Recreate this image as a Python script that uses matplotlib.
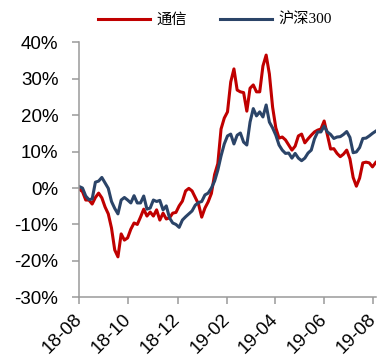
import numpy as np
import pandas as pd
import matplotlib
matplotlib.use('Agg')
import matplotlib.pyplot as plt
import matplotlib.dates as mdates
from matplotlib.ticker import FuncFormatter

# sample dates, one every 4 days
dates = pd.date_range('2018-08-01', periods=93, freq='4D')

# cumulative return, %
telecom = [
    -0.3, -1.0, -3.3, -3.3, -4.4, -2.6, -1.4, -2.7, -5.2, -7.1,
    -11.0, -17.0, -18.9, -12.6, -14.3, -13.7, -11.3, -9.6, -10.0, -8.0,
    -5.8, -7.7, -6.6, -7.7, -6.0, -8.8, -6.9, -8.5, -8.2, -6.9,
    -6.7, -4.9, -3.6, -0.8, -0.1, -0.8, -2.6, -4.4, -8.0, -5.5,
    -3.8, -1.5, 3.7, 6.7, 16.2, 19.2, 20.9, 29.1, 32.7, 26.9,
    26.4, 26.2, 21.1, 27.4, 28.3, 26.4, 26.4, 33.5, 36.5, 31.3,
    22.2, 16.5, 13.7, 14.0, 13.2, 11.8, 10.4, 11.5, 14.3, 14.8,
    12.4, 13.5, 14.5, 15.4, 15.9, 16.2, 18.4, 14.6, 10.7, 10.8,
    9.5, 8.6, 9.3, 10.4, 8.0, 2.9, 0.5, 2.7, 6.9, 7.1,
    6.9, 5.8, 7.0,
]
hs300 = [
    0.4, 0.0, -2.2, -3.2, -3.0, 1.6, 1.9, 2.9, 1.4, -0.1,
    -3.7, -5.6, -7.1, -3.3, -2.6, -3.3, -4.1, -2.1, -4.1, -4.1,
    -2.2, -5.8, -5.5, -3.3, -3.7, -3.4, -6.0, -4.9, -8.2, -9.6,
    -10.0, -10.8, -8.8, -7.9, -7.1, -6.3, -4.7, -4.0, -3.7, -1.9,
    -1.4, 0.0, 1.9, 4.9, 8.8, 12.1, 14.3, 14.8, 12.1, 14.5,
    15.1, 12.6, 11.8, 18.1, 21.8, 19.8, 20.9, 19.5, 22.8, 18.1,
    16.5, 14.5, 11.8, 10.4, 9.5, 9.6, 8.2, 9.5, 8.2, 7.5,
    8.2, 9.6, 10.4, 13.5, 15.4, 15.4, 17.0, 15.4, 14.7, 13.6,
    14.0, 14.1, 14.7, 15.5, 13.9, 9.7, 9.9, 11.1, 13.6, 13.7,
    14.3, 15.0, 15.6,
]

series_names = ['通信', '沪深300']
series_colors = ['#C00000', '#2B4468']

fig = plt.figure(figsize=(3.79, 3.58), dpi=100)
ax = fig.add_axes([0.2092, 0.1696, 0.7821, 0.7122])

for vals, name, col in zip([telecom, hs300], series_names, series_colors):
    ax.plot(dates, vals, color=col, lw=2.2, label=name)

ax.set_ylim(-30, 40)
ax.set_yticks(np.arange(-30, 41, 10))
ax.yaxis.set_major_formatter(FuncFormatter(lambda v, p: '%d%%' % v))

ax.set_xlim(pd.Timestamp('2018-08-01'), pd.Timestamp('2019-08-04'))
ax.xaxis.set_major_locator(mdates.MonthLocator(bymonth=[2, 4, 6, 8, 10, 12]))
ax.xaxis.set_major_formatter(mdates.DateFormatter('%y-%m'))

for s in ['top', 'right']:
    ax.spines[s].set_visible(False)
for s in ['left', 'bottom']:
    ax.spines[s].set_color('#9a9a9a')
    ax.spines[s].set_linewidth(1.1)

ax.tick_params(axis='both', colors='#9a9a9a', length=5, width=1.1,
               labelcolor='black', labelsize=13.5)
ax.tick_params(axis='y', pad=10)
ax.tick_params(axis='x', pad=9)
for lab in ax.get_yticklabels() + ax.get_xticklabels():
    lab.set_family('Liberation Sans')
for lab in ax.get_xticklabels():
    lab.set_rotation(45)
    lab.set_rotation_mode('anchor')
    lab.set_ha('right')
    lab.set_va('center')

leg = fig.legend(loc='center', bbox_to_anchor=(0.567, 0.944), ncol=2,
                 frameon=False, handlelength=3.4, handletextpad=0.4,
                 columnspacing=2.2,
                 prop={'family': ['Liberation Serif', 'Noto Sans CJK SC'],
                       'size': 11})
for ln in leg.get_lines():
    ln.set_linewidth(2.2)

fig.savefig('out.png', dpi=100)
